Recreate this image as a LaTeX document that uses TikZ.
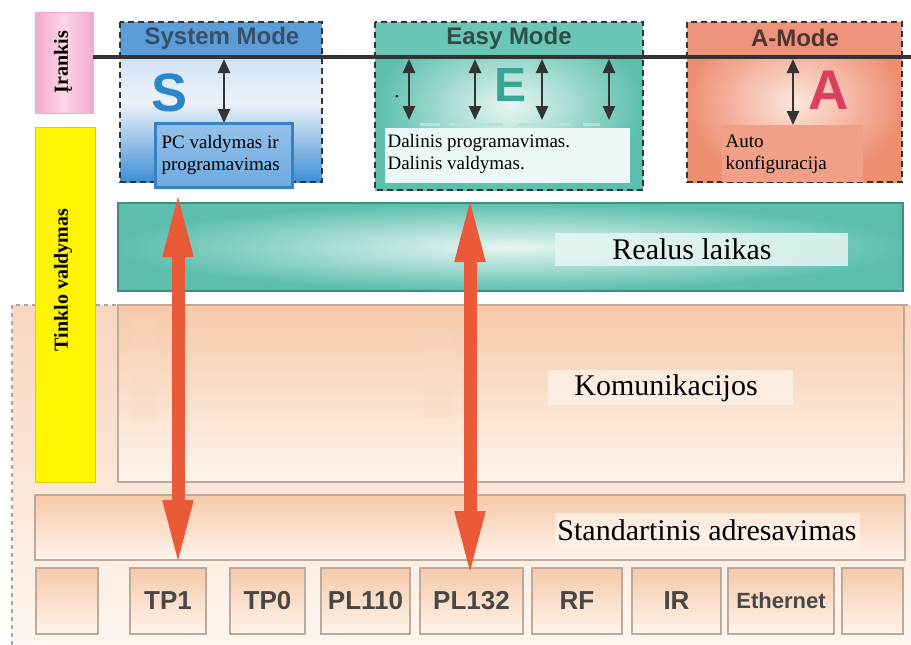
\documentclass[tikz,border=0pt]{standalone}
\usepackage{fontspec}
\setmainfont{Liberation Serif}
\setsansfont{Liberation Sans}
\usetikzlibrary{arrows.meta,calc}
\definecolor{bgTop}{HTML}{F8D6BE}
\definecolor{bgBot}{HTML}{FEF6F0}
\definecolor{pTop}{HTML}{F7C9A8}
\definecolor{pBot}{HTML}{FEF4EC}
\definecolor{pBorder}{HTML}{BDAA9C}
\definecolor{tealE}{HTML}{5CBFAE}
\definecolor{tealL}{HTML}{E7F6F2}
\definecolor{tealB}{HTML}{3F8E82}
\definecolor{sysHead}{HTML}{5D9DD7}
\definecolor{sysTop}{HTML}{BCD5EE}
\definecolor{sysMid}{HTML}{EEF3F9}
\definecolor{sysBot}{HTML}{3D8ED6}
\definecolor{easyHead}{HTML}{6CC6B6}
\definecolor{aHead}{HTML}{EE947A}
\definecolor{aOut}{HTML}{EE8F72}
\definecolor{aIn}{HTML}{FCE7DE}
\definecolor{darkline}{HTML}{333333}
\definecolor{orangeArr}{HTML}{EB5A38}
\definecolor{pinkL}{HTML}{FAD6E7}
\definecolor{pinkD}{HTML}{F3A9CD}
\definecolor{yell}{HTML}{FFF500}
\definecolor{sysText}{HTML}{35506A}
\definecolor{easyText}{HTML}{2E4E4A}
\definecolor{aText}{HTML}{4E3630}
\definecolor{letterS}{HTML}{2A86CC}
\definecolor{letterE}{HTML}{3AA597}
\definecolor{letterA}{HTML}{DC3F5E}
\tikzset{
  box/.style={rectangle, inner sep=0pt, outer sep=0pt},
  peachbox/.style={box, draw=pBorder, line width=1.5pt, top color=pTop, bottom color=pBot},
  protobox/.style={peachbox, minimum height=66, font=\sffamily\bfseries\fontsize{26}{28}\selectfont, text=darkline!90},
  serifbig/.style={font=\fontsize{30}{34}\selectfont, text=black},
  serifsmall/.style={font=\fontsize{19}{22}\selectfont, align=left, text=black},
  headtext/.style={font=\sffamily\bfseries\fontsize{24}{26}\selectfont},
  bigletter/.style={font=\sffamily\bfseries\fontsize{#1}{#1}\selectfont},
  modeborder/.style={draw=darkline, line width=2pt, dash pattern=on 6pt off 4pt},
  smallarr/.style={draw=darkline, line width=2.5pt, {Triangle[length=14pt,width=12pt]}-{Triangle[length=14pt,width=12pt]}},
  bigarr/.style={draw=orangeArr, line width=13pt, {Triangle[length=68pt,width=27pt]}-{Triangle[length=68pt,width=27pt]}},
  sidetext/.style={rotate=90, font=\bfseries\fontsize{20}{22}\selectfont, text=black}
}
\begin{document}
\begin{tikzpicture}[x=1pt,y=-1pt]
\useasboundingbox (0,0) rectangle (911,645);
\fill[white] (0,0) rectangle (911,645);

% ---- lower background region
\node[box, top color=bgTop, bottom color=bgBot, minimum width=899, minimum height=340, anchor=north west] (bg) at (12,305) {};
\draw[draw=gray!70, line width=1.5pt, dash pattern=on 4pt off 4pt] (bg.south west) -- (bg.north west) -- (bg.north east);

% ---- Komunikacijos
\node[peachbox, minimum width=786, minimum height=177] (kom) at (511,393.5) {};
\fill[pTop!70, opacity=0.25] (132,317) rectangle (157,422);
\fill[pTop!70, opacity=0.25] (423,330) rectangle (453,418);
\node[box, fill=pBot, opacity=0.7, minimum width=245, minimum height=35] (komt) at (670.5,387.5) {};
\node[serifbig] (komtxt) at (666,388) {Komunikacijos};

% ---- Standartinis adresavimas
\node[peachbox, minimum width=870, minimum height=65] (std) at (470,527.5) {};
\node[box, fill=pBot, opacity=0.7, minimum width=305, minimum height=34] (stdt) at (707.5,530) {};
\node[serifbig] (stdtxt) at (707,530) {Standartinis adresavimas};

% ---- bottom protocol boxes
\node[protobox, minimum width=62] (b0) at (67,601) {};
\node[protobox, minimum width=76] (tp1) at (168,601) {TP1};
\node[protobox, minimum width=75] (tp0) at (267.5,601) {TP0};
\node[protobox, minimum width=89] (pl110) at (365.5,601) {PL110};
\node[protobox, minimum width=103] (pl132) at (471.5,601) {PL132};
\node[protobox, minimum width=90] (rf) at (577,601) {RF};
\node[protobox, minimum width=89] (ir) at (676.5,601) {IR};
\node[protobox, minimum width=106, font=\sffamily\bfseries\fontsize{22}{24}\selectfont] (eth) at (781,601) {Ethernet};
\node[protobox, minimum width=61] (b9) at (872.5,601) {};

% ---- Realus laikas
\node[box, draw=tealB, line width=1.2pt, shading=radial, inner color=tealL, outer color=tealE, minimum width=785, minimum height=88] (rl) at (510.5,247) {};
\node[box, fill=tealL, opacity=0.85, minimum width=293, minimum height=33] (rlt) at (701.5,249.5) {};
\node[serifbig] (rltxt) at (692,249) {Realus laikas};

% ---- left side bars
\node[box, draw=pinkD, line width=1pt, left color=pinkD, right color=pinkD, middle color=pinkL, minimum width=58, minimum height=101] (pink) at (64,62.5) {};
\node[sidetext] (pinktxt) at (63,62) {Įrankis};
\node[box, fill=yell, draw=yell!85!black, line width=0.8pt, minimum width=60, minimum height=355] (yel) at (65,304.5) {};
\node[sidetext] (yeltxt) at (63,280) {Tinklo valdymas};

% ---- System Mode
\node[box, top color=sysTop, bottom color=sysBot, middle color=sysMid, minimum width=202, minimum height=160] (sys) at (221,102) {};
\fill[sysHead] (sys.north west) rectangle ($(sys.north east)+(0,35)$);
\draw[modeborder] (sys.north west) rectangle (sys.south east);
\node[headtext, text=sysText] (systxt) at (222,38) {System Mode};
\node[bigletter=54, text=letterS] (sysS) at (170,93) {S};
\node[box, draw=sysBot!90!black, line width=3pt, top color=sysBot!55!white, bottom color=sysBot!75!white, minimum width=137, minimum height=64] (pc) at (223.5,155) {};
\node[serifsmall, anchor=west] (pctxt) at (158,155) {PC valdymas ir\\programavimas};

% ---- Easy Mode
\node[box, shading=radial, inner color=tealL, outer color=tealE, minimum width=268, minimum height=168] (easy) at (509,106) {};
\fill[easyHead] (easy.north west) rectangle ($(easy.north east)+(0,35)$);
\draw[modeborder] (easy.north west) rectangle (easy.south east);
\node[headtext, text=easyText] (easytxt) at (509,38) {Easy Mode};
\node[bigletter=48, text=letterE] (easyE) at (511,85) {E};
\node[font=\fontsize{19}{22}\selectfont] (dot) at (397,97) {.};
\draw[tealE!45!white, line width=3pt, dash pattern=on 20pt off 10pt on 53pt off 14pt on 53pt off 13pt] (420,124) -- (600,124);
\node[box, fill=tealL!80!white, minimum width=245, minimum height=55] (ein) at (507.5,155.5) {};
\node[serifsmall, anchor=west] (eintxt) at (384,154) {Dalinis programavimas.\\Dalinis valdymas.};

% ---- A-Mode
\node[box, shading=radial, inner color=aIn, outer color=aOut, minimum width=215, minimum height=160] (amode) at (794.5,102) {};
\fill[aHead] (amode.north west) rectangle ($(amode.north east)+(0,35)$);
\draw[modeborder] (amode.north west) rectangle (amode.south east);
\node[headtext, text=aText] (atxt) at (795,38) {A-Mode};
\node[bigletter=56, text=letterA] (aA) at (829,90) {A};
\node[box, fill=aOut!85!white, minimum width=141, minimum height=57] (ain) at (792.5,153.5) {};
\node[serifsmall, anchor=west] (aintxt) at (722,154) {Auto\\konfiguracija};

% ---- horizontal tool line
\coordinate (hl1) at (911,57);
\draw[darkline, line width=4.5pt] (pink.east |- hl1) -- (hl1);

% ---- small arrows
\coordinate (s1t) at (224,59);
\draw[smallarr] (s1t) -- (pc.north -| s1t);
\coordinate (e1t) at (409,59); \coordinate (e1b) at (409,120);
\coordinate (e2t) at (475,59); \coordinate (e2b) at (475,120);
\coordinate (e3t) at (542,59); \coordinate (e3b) at (542,120);
\coordinate (e4t) at (609,59); \coordinate (e4b) at (609,120);
\draw[smallarr] (e1t) -- (e1b);
\draw[smallarr] (e2t) -- (e2b);
\draw[smallarr] (e3t) -- (e3b);
\draw[smallarr] (e4t) -- (e4b);
\coordinate (a1t) at (793,59);
\draw[smallarr] (a1t) -- (ain.north -| a1t);

% ---- big orange arrows
\coordinate (o1t) at (178,189);
\coordinate (o1b) at (178,568);
\coordinate (o2t) at (470,194);
\coordinate (o2b) at (470,579);
\draw[bigarr] (o1t) -- (o1b);
\draw[bigarr] (o2t) -- (o2b);
\end{tikzpicture}
\end{document}
